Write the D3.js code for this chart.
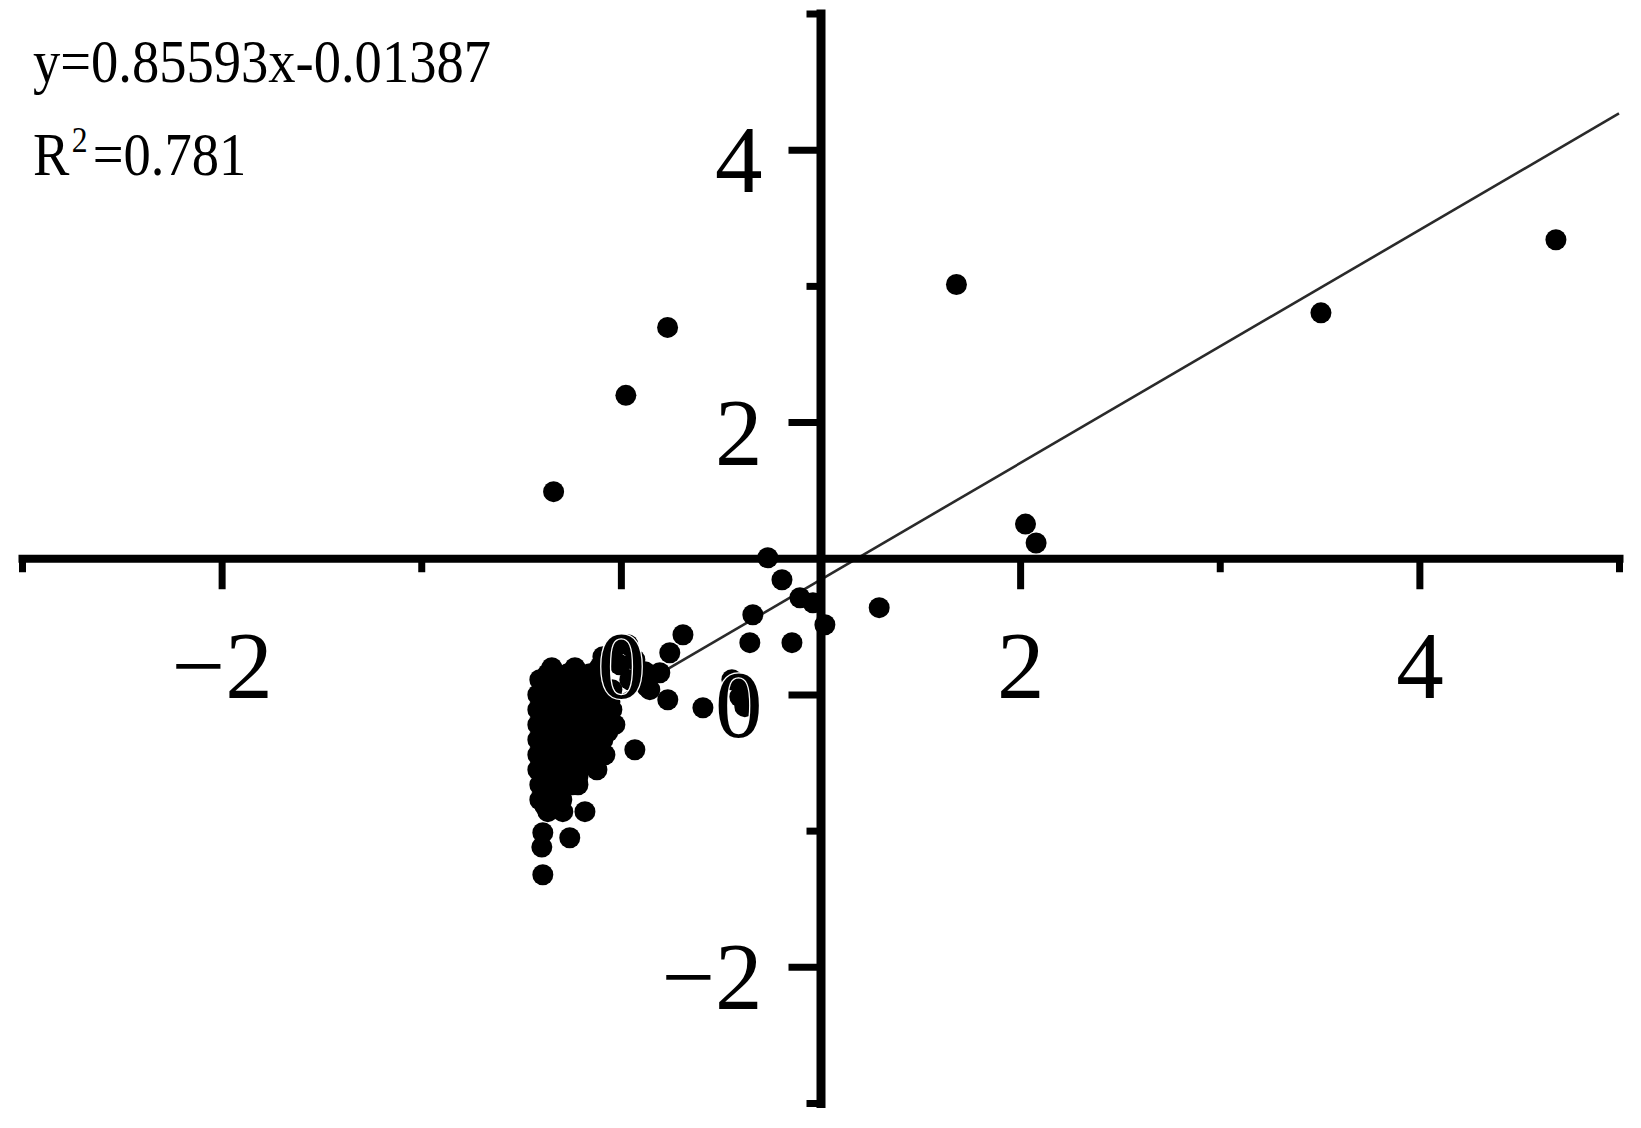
<!DOCTYPE html>
<html><head><meta charset="utf-8">
<script src="https://cdn.jsdelivr.net/npm/d3@7"></script>
<style>html,body{margin:0;padding:0;background:#fff;} svg{display:block;}</style>
</head><body>
<svg id="chart" width="1641" height="1128"></svg>
<script>
// ---- data ----
const pointsX = [
  4.684, 3.507, 1.681, 0.234, 0.025, -0.337, 2.027, 2.080, 1.294,
  0.736, 0.807, 0.897, 0.962, 1.022, 0.661, 0.646, 0.857, 0.556, 0.611, 0.596, 0.621, 0.411, 0.311, 0.235,
  -0.090, -0.030, 0.035, -0.005, 0.070, 0.120, 0.045, 0.145, 0.195, 0.245, 0.130, -0.105, -0.155, -0.045,
  -0.346, -0.230,
  -0.366, -0.266, -0.155,
  -0.406, -0.306, -0.205, -0.105,
  -0.381, -0.316, -0.230, -0.130,
  -0.416, -0.356, -0.281, -0.180, -0.080,
  -0.391, -0.321, -0.240, -0.130, -0.055,
  -0.416, -0.366, -0.296, -0.215, -0.130, -0.045,
  -0.391, -0.331, -0.256, -0.165, -0.085,
  -0.416, -0.366, -0.281, -0.195, -0.105, -0.030,
  -0.391, -0.321, -0.240, -0.150, -0.065,
  -0.416, -0.356, -0.266, -0.180, -0.090,
  -0.391, -0.321, -0.230, -0.140,
  -0.416, -0.366, -0.281, -0.195, -0.080,
  -0.391, -0.321, -0.240, -0.155,
  -0.416, -0.346, -0.256, -0.120,
  -0.381, -0.306, -0.215,
  -0.406, -0.331, -0.245, -0.215,
  -0.381, -0.306,
  -0.406, -0.331, -0.296,
  -0.381, -0.326,
  -0.366, -0.291, -0.180,
  -0.391, -0.256, -0.396, -0.391,
  0.070
];
const pointsY = [
  3.339, 2.802, 3.010, 2.695, 2.196, 1.489, 1.251, 1.112, 0.637,
  1.004, 0.842, 0.710, 0.673, 0.512, 0.585, 0.380, 0.380, 0.108, 0.057, -0.017, -0.090, -0.098, 0.438, -0.039,
  0.277, 0.343, 0.365, 0.218, 0.255, 0.167, 0.108, 0.035, 0.159, 0.306, 0.057, 0.203, 0.035, 0.035,
  0.196, 0.196,
  0.152, 0.152, 0.152,
  0.108, 0.108, 0.108, 0.108,
  0.049, 0.049, 0.049, 0.049,
  -0.002, -0.002, -0.002, -0.002, -0.002,
  -0.054, -0.054, -0.054, -0.054, -0.054,
  -0.112, -0.112, -0.112, -0.112, -0.112, -0.112,
  -0.164, -0.164, -0.164, -0.164, -0.164,
  -0.222, -0.222, -0.222, -0.222, -0.222, -0.222,
  -0.274, -0.274, -0.274, -0.274, -0.274,
  -0.333, -0.333, -0.333, -0.333, -0.333,
  -0.384, -0.384, -0.384, -0.384,
  -0.443, -0.443, -0.443, -0.443, -0.443,
  -0.494, -0.494, -0.494, -0.494,
  -0.553, -0.553, -0.553, -0.553,
  -0.604, -0.604, -0.604,
  -0.663, -0.663, -0.663, -0.663,
  -0.714, -0.714,
  -0.773, -0.773, -0.773,
  -0.817, -0.817,
  -0.861, -0.861, -0.861,
  -1.015, -1.052, -1.121, -1.324,
  -0.406
];
const slope = 0.85593;
const intercept = -0.01387;
const fitXEnd = 5;
const xDomain = [-3, 5];
const yDomain = [-3, 5];
const axisCross = 1;
const xTickMajor = [-2, 0, 2, 4];
const xTickLabels = ["\u22122", "0", "2", "4"];
const xTickMinor = [-3, -1, 3, 5];
const yTickMajor = [-2, 0, 2, 4];
const yTickLabels = ["\u22122", "0", "2", "4"];
const yTickMinor = [-3, -1, 3, 5];
const equationText = "y=0.85593x-0.01387";
const r2Label = "R";
const r2Sup = "2";
const r2Value = "=0.781";

// ---- chart ----
const svg = d3.select("#chart");
const x = d3.scaleLinear().domain(xDomain).range([22, 1619]);
const y = d3.scaleLinear().domain(yDomain).range([1103, 13.5]);
const FONT = "'Liberation Serif', 'Times New Roman', serif";

// regression line
const fitData = [d3.min(pointsX), fitXEnd].map(v => [v, slope * v + intercept]);
svg.append("path")
  .attr("d", d3.line().x(d => x(d[0])).y(d => y(d[1]))(fitData))
  .attr("fill", "none").attr("stroke", "#2a2a2a").attr("stroke-width", 2.6);

// points
svg.append("g").selectAll("circle")
  .data(pointsX.map((v, i) => [v, pointsY[i]]))
  .join("circle")
  .attr("cx", d => x(d[0])).attr("cy", d => y(d[1]))
  .attr("r", 10.5).attr("fill", "#000");

// axes
function styleAxis(g, sw) {
  g.select(".domain").attr("stroke", "#000").attr("stroke-width", sw).attr("stroke-linecap", "square");
  g.selectAll(".tick line").attr("stroke", "#000").attr("stroke-width", 7);
}
const gxMinor = svg.append("g").attr("transform", `translate(0,${y(axisCross)})`)
  .call(d3.axisBottom(x).tickValues(xTickMinor).tickSize(14).tickSizeOuter(0).tickFormat(""));
gxMinor.select(".domain").remove();
styleAxis(gxMinor, 8);
const gyMinor = svg.append("g").attr("transform", `translate(${x(axisCross)},0)`)
  .call(d3.axisLeft(y).tickValues(yTickMinor).tickSize(14).tickSizeOuter(0).tickFormat(""));
gyMinor.select(".domain").remove();
styleAxis(gyMinor, 8);

const gx = svg.append("g").attr("transform", `translate(0,${y(axisCross)})`)
  .call(d3.axisBottom(x).tickValues(xTickMajor).tickSize(31).tickSizeOuter(0)
    .tickFormat((d, i) => xTickLabels[i]));
styleAxis(gx, 8);
const gy = svg.append("g").attr("transform", `translate(${x(axisCross)},0)`)
  .call(d3.axisLeft(y).tickValues(yTickMajor).tickSize(32).tickSizeOuter(0)
    .tickFormat((d, i) => yTickLabels[i]));
styleAxis(gy, 9);
gx.attr("font-size", null).attr("font-family", null);
gy.attr("font-size", null).attr("font-family", null);

function styleLabels(sel) {
  sel.attr("font-family", FONT).attr("font-size", 95).attr("fill", "#000")
    .each(function(d) {
      if (d === 0) {
        d3.select(this).attr("stroke", "#fff").attr("stroke-width", 2.5).attr("paint-order", "stroke");
      }
    });
}
gx.selectAll(".tick text").attr("y", 140).attr("dy", 0);
styleLabels(gx.selectAll(".tick text"));
gy.selectAll(".tick text").attr("x", -58).attr("y", 42).attr("dy", 0);
styleLabels(gy.selectAll(".tick text"));

// annotation
const ann = svg.append("g").attr("font-family", FONT).attr("fill", "#000");
ann.append("text").attr("transform", "translate(33,82) scale(0.88,1)")
  .attr("font-size", 62).text(equationText);
const r2 = ann.append("text").attr("transform", "translate(33,175) scale(0.88,1)").attr("font-size", 62);
r2.append("tspan").attr("x", 0).attr("y", 0).text(r2Label);
r2.append("tspan").attr("x", 44).attr("y", -23).attr("font-size", 36).text(r2Sup);
r2.append("tspan").attr("x", 68).attr("y", 0).text(r2Value);
</script>
</body></html>
